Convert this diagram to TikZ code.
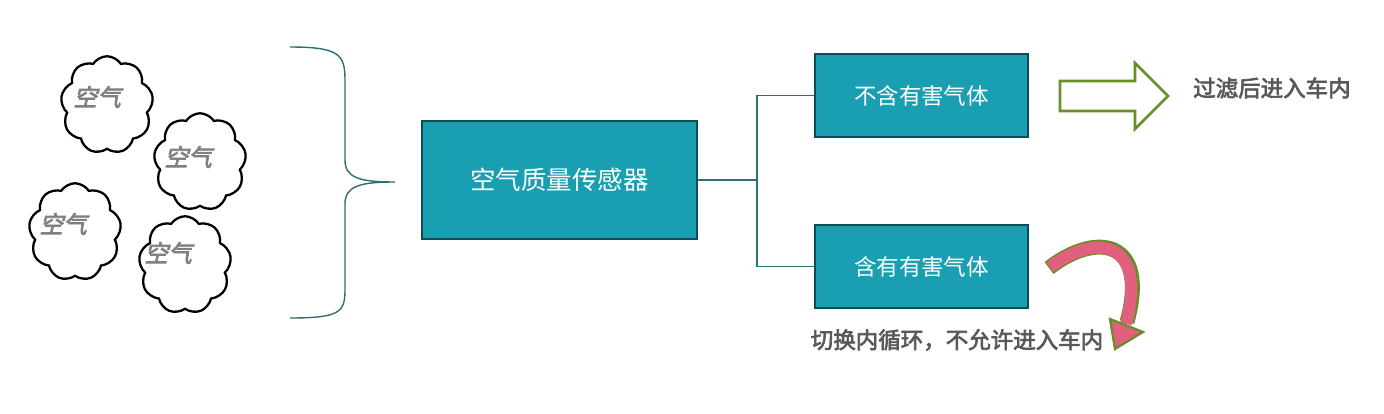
\documentclass[tikz,border=0pt]{standalone}
\usepackage{fontspec}
\setmainfont{Noto Sans CJK SC}
\newfontfamily\cloudfont[FakeSlant=0.25,FakeBold=3]{Noto Sans CJK SC}
\newfontfamily\notefont[FakeBold=3]{Noto Sans CJK SC}
\usetikzlibrary{shapes.symbols}
\definecolor{tealfill}{HTML}{1A9FB2}
\definecolor{tealline}{HTML}{0E4B52}
\definecolor{wireteal}{HTML}{2F6F73}
\definecolor{arrowgreen}{HTML}{6A8E2A}
\definecolor{arrowpink}{HTML}{E0607E}
\definecolor{notegray}{HTML}{595959}
\tikzset{
  cloudnode/.style={cloud, cloud puffs=9, cloud puff arc=115, aspect=0.9, draw=black, line width=1.3pt,
    minimum width=1.85cm, minimum height=1.95cm},
  sensorbox/.style={draw=tealline, line width=1.2pt, fill=tealfill, text=white, font=\fontsize{14.5}{16}\selectfont},
  wire/.style={draw=wireteal, line width=0.6pt},
  note/.style={text=notegray, font=\notefont\fontsize{12.8}{14}\selectfont},
}
\begin{document}
\begin{tikzpicture}[x=0.02cm, y=-0.02cm]
  \useasboundingbox (0,0) rectangle (1384,413);

  % clouds
  \node[cloudnode] (c1) at (107,105) {};
  \node[cloudnode] (c2) at (200,162) {};
  \node[cloudnode] (c3) at (75,232) {};
  \node[cloudnode] (c4) at (185,265) {};
  \foreach \c/\dx/\dy in {c1/-10/-8, c2/-12/-5, c3/-12/-8, c4/-17/-12} {
    \node[text=gray, font=\cloudfont\fontsize{13.5}{15}\selectfont] at ([shift={(\dx,\dy)}]\c) {空气};
  }

  % brace
  \draw[wire, line width=0.8pt] (290,47) .. controls (340,47) and (345,55) .. (345,80)
    -- (345,160) .. controls (345,178) and (360,182) .. (395,182)
    .. controls (360,182) and (345,186) .. (345,204)
    -- (345,290) .. controls (345,312) and (340,318) .. (290,318);

  % boxes
  \node[sensorbox, minimum width=5.5cm, minimum height=2.36cm] (sensor) at (559.5,180) {空气质量传感器};
  \node[sensorbox, minimum width=4.26cm, minimum height=1.66cm, font=\fontsize{12.8}{14}\selectfont] (clean) at (921.5,95.5) {不含有害气体};
  \node[sensorbox, minimum width=4.26cm, minimum height=1.66cm, font=\fontsize{12.8}{14}\selectfont] (bad) at (921.5,266.5) {含有有害气体};

  % connectors
  \coordinate (fork) at (757,180);
  \draw[wire] (sensor.east) -- (fork);
  \draw[wire] (clean.west) -| (fork) |- (bad.west);

  % hollow arrow
  \draw[arrowgreen, line width=1.5pt, fill=white] (1060,81) -- (1135,81) -- (1135,63) -- (1168,96)
    -- (1135,129) -- (1135,111) -- (1060,111) -- cycle;
  \node[note, anchor=west] (passtext) at (1187,88) {过滤后进入车内};

  % curved arrow
  \draw[arrowgreen, line width=8.5pt] (1049,268) .. controls (1095,232) and (1150,238) .. (1127,322);
  \draw[arrowpink, line width=6.8pt] (1050,267) .. controls (1095,233) and (1148,239) .. (1126,324);
  \draw[arrowgreen, line width=1.3pt, fill=arrowpink] (1110,319) -- (1143,332) -- (1115,349) -- cycle;
  \node[note] (blocktext) at (957,340) {切换内循环，不允许进入车内};
\end{tikzpicture}
\end{document}
